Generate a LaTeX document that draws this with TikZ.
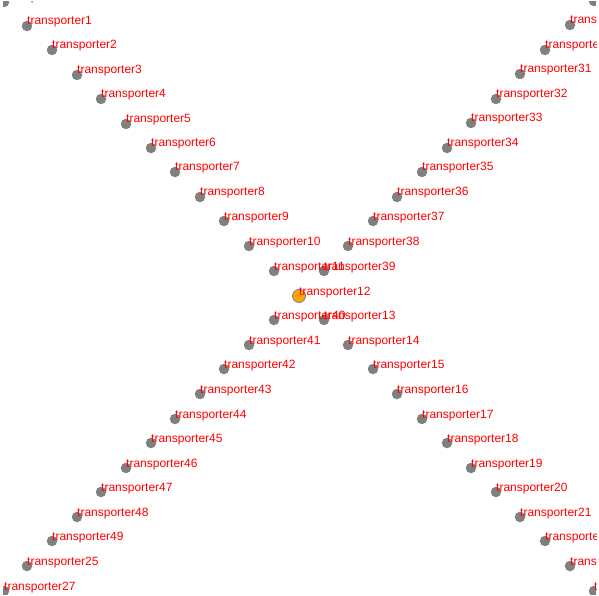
\documentclass[tikz,border=0pt]{standalone}
\usepackage{fontspec}
\setmainfont{Liberation Sans}

\definecolor{dotgray}{HTML}{808080}
\definecolor{hubfill}{HTML}{FFA500}
\definecolor{lblred}{HTML}{FF0000}

\begin{document}
\begin{tikzpicture}[x=1pt, y=-1pt,
    dot/.style={circle, fill=dotgray, inner sep=0pt, minimum size=10.5pt},
    hub/.style={circle, fill=hubfill, draw=dotgray, line width=0.8pt, inner sep=0pt, minimum size=13pt},
    lbl/.style={anchor=base west, inner sep=0pt, text=lblred, font=\fontsize{12}{14}\selectfont}]
      \useasboundingbox (0, 0) rectangle (599, 596);
      \clip (3, 2) rectangle (596, 594);

      % main diagonal, top left to bottom right
      \node[dot] (t26) at (4, 2) {};
      \node[dot] (t1) at (27, 26) {};
      \node[dot] (t2) at (52, 50) {};
      \node[dot] (t3) at (77, 75) {};
      \node[dot] (t4) at (101, 99) {};
      \node[dot] (t5) at (126, 124) {};
      \node[dot] (t6) at (151, 148) {};
      \node[dot] (t7) at (175, 172) {};
      \node[dot] (t8) at (200, 197) {};
      \node[dot] (t9) at (224, 221) {};
      \node[dot] (t10) at (249, 246) {};
      \node[dot] (t11) at (274, 271) {};
      \node[hub] (t12) at (299, 296) {};
      \node[dot] (t13) at (324, 320) {};
      \node[dot] (t14) at (348, 345) {};
      \node[dot] (t15) at (373, 369) {};
      \node[dot] (t16) at (397, 394) {};
      \node[dot] (t17) at (422, 419) {};
      \node[dot] (t18) at (447, 443) {};
      \node[dot] (t19) at (471, 468) {};
      \node[dot] (t20) at (496, 492) {};
      \node[dot] (t21) at (520, 517) {};
      \node[dot] (t22) at (545, 541) {};
      \node[dot] (t23) at (570, 566) {};
      \node[dot] (t24) at (594, 591) {};

      % other diagonal, top right to bottom left
      \node[dot] (t28) at (594, 1) {};
      \node[dot] (t29) at (570, 25) {};
      \node[dot] (t30) at (545, 50) {};
      \node[dot] (t31) at (520, 74) {};
      \node[dot] (t32) at (496, 99) {};
      \node[dot] (t33) at (471, 123) {};
      \node[dot] (t34) at (447, 148) {};
      \node[dot] (t35) at (422, 172) {};
      \node[dot] (t36) at (397, 197) {};
      \node[dot] (t37) at (373, 221) {};
      \node[dot] (t38) at (348, 246) {};
      \node[dot] (t39) at (324, 271) {};
      \node[dot] (t40) at (274, 320) {};
      \node[dot] (t41) at (249, 345) {};
      \node[dot] (t42) at (224, 369) {};
      \node[dot] (t43) at (200, 394) {};
      \node[dot] (t44) at (175, 419) {};
      \node[dot] (t45) at (151, 443) {};
      \node[dot] (t46) at (126, 468) {};
      \node[dot] (t47) at (101, 492) {};
      \node[dot] (t48) at (77, 517) {};
      \node[dot] (t49) at (52, 541) {};
      \node[dot] (t25) at (27, 566) {};
      \node[dot] (t27) at (4, 591) {};

      % labels
      \node[lbl] (l26) at ([yshift=1pt]t26.center) {transporter26};
      \node[lbl] (l1) at ([yshift=1pt]t1.center) {transporter1};
      \node[lbl] (l2) at ([yshift=1pt]t2.center) {transporter2};
      \node[lbl] (l3) at ([yshift=1pt]t3.center) {transporter3};
      \node[lbl] (l4) at ([yshift=1pt]t4.center) {transporter4};
      \node[lbl] (l5) at ([yshift=1pt]t5.center) {transporter5};
      \node[lbl] (l6) at ([yshift=1pt]t6.center) {transporter6};
      \node[lbl] (l7) at ([yshift=1pt]t7.center) {transporter7};
      \node[lbl] (l8) at ([yshift=1pt]t8.center) {transporter8};
      \node[lbl] (l9) at ([yshift=1pt]t9.center) {transporter9};
      \node[lbl] (l10) at ([yshift=1pt]t10.center) {transporter10};
      \node[lbl] (l11) at ([yshift=1pt]t11.center) {transporter11};
      \node[lbl] (l12) at ([yshift=1pt]t12.center) {transporter12};
      \node[lbl] (l13) at ([yshift=1pt]t13.center) {transporter13};
      \node[lbl] (l14) at ([yshift=1pt]t14.center) {transporter14};
      \node[lbl] (l15) at ([yshift=1pt]t15.center) {transporter15};
      \node[lbl] (l16) at ([yshift=1pt]t16.center) {transporter16};
      \node[lbl] (l17) at ([yshift=1pt]t17.center) {transporter17};
      \node[lbl] (l18) at ([yshift=1pt]t18.center) {transporter18};
      \node[lbl] (l19) at ([yshift=1pt]t19.center) {transporter19};
      \node[lbl] (l20) at ([yshift=1pt]t20.center) {transporter20};
      \node[lbl] (l21) at ([yshift=1pt]t21.center) {transporter21};
      \node[lbl] (l22) at ([yshift=1pt]t22.center) {transporter22};
      \node[lbl] (l23) at ([yshift=1pt]t23.center) {transporter23};
      \node[lbl] (l24) at ([yshift=1pt]t24.center) {transporter24};

      \node[lbl] (l28) at ([yshift=1pt]t28.center) {transporter28};
      \node[lbl] (l29) at ([yshift=1pt]t29.center) {transporter29};
      \node[lbl] (l30) at ([yshift=1pt]t30.center) {transporter30};
      \node[lbl] (l31) at ([yshift=1pt]t31.center) {transporter31};
      \node[lbl] (l32) at ([yshift=1pt]t32.center) {transporter32};
      \node[lbl] (l33) at ([yshift=1pt]t33.center) {transporter33};
      \node[lbl] (l34) at ([yshift=1pt]t34.center) {transporter34};
      \node[lbl] (l35) at ([yshift=1pt]t35.center) {transporter35};
      \node[lbl] (l36) at ([yshift=1pt]t36.center) {transporter36};
      \node[lbl] (l37) at ([yshift=1pt]t37.center) {transporter37};
      \node[lbl] (l38) at ([yshift=1pt]t38.center) {transporter38};
      \node[lbl] (l39) at ([yshift=1pt]t39.center) {transporter39};
      \node[lbl] (l40) at ([yshift=1pt]t40.center) {transporter40};
      \node[lbl] (l41) at ([yshift=1pt]t41.center) {transporter41};
      \node[lbl] (l42) at ([yshift=1pt]t42.center) {transporter42};
      \node[lbl] (l43) at ([yshift=1pt]t43.center) {transporter43};
      \node[lbl] (l44) at ([yshift=1pt]t44.center) {transporter44};
      \node[lbl] (l45) at ([yshift=1pt]t45.center) {transporter45};
      \node[lbl] (l46) at ([yshift=1pt]t46.center) {transporter46};
      \node[lbl] (l47) at ([yshift=1pt]t47.center) {transporter47};
      \node[lbl] (l48) at ([yshift=1pt]t48.center) {transporter48};
      \node[lbl] (l49) at ([yshift=1pt]t49.center) {transporter49};
      \node[lbl] (l25) at ([yshift=1pt]t25.center) {transporter25};
      \node[lbl] (l27) at ([yshift=1pt]t27.center) {transporter27};
    \end{tikzpicture}
\end{document}
